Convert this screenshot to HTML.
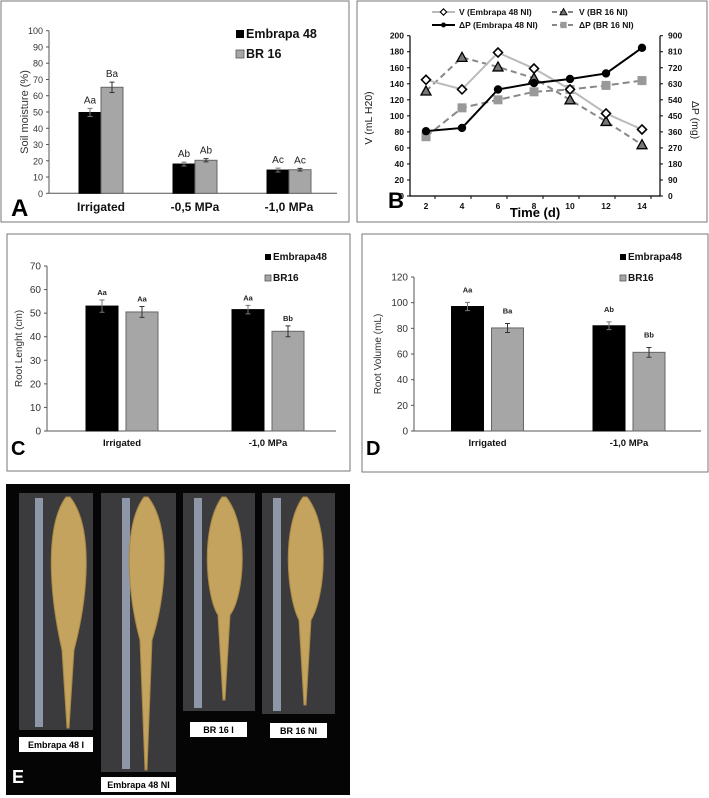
<!DOCTYPE html>
<html><head><meta charset="utf-8"><style>
html,body{margin:0;padding:0;background:#fff;}
svg{display:block;font-family:"Liberation Sans",Arial,sans-serif;}
</style></head><body>
<svg id="fig" width="709" height="798" viewBox="0 0 709 798" xmlns="http://www.w3.org/2000/svg">
<rect x="1" y="1" width="348" height="221" fill="none" stroke="#777" stroke-width="1"/>
<rect x="357" y="1" width="350" height="221" fill="none" stroke="#777" stroke-width="1"/>
<rect x="7" y="234" width="343" height="237" fill="none" stroke="#777" stroke-width="1"/>
<rect x="362" y="234" width="346" height="238" fill="none" stroke="#777" stroke-width="1"/>
<g id="A"></g>
<g id="B"></g>
<g id="C"></g>
<g id="D"></g>
<g id="E"></g>
</svg>
<script>
// ---------- data ----------
const catsA = ["Irrigated", "-0,5 MPa", "-1,0 MPa"];
const embA = [49.7, 18, 14.3];
const embErrA = [2.5, 1.2, 1.2];
const brA = [65.2, 20.3, 14.5];
const brErrA = [3.2, 1.0, 0.8];
const lettersEmbA = ["Aa", "Ab", "Ac"];
const lettersBrA = ["Ba", "Ab", "Ac"];
const ticksA = [0,10,20,30,40,50,60,70,80,90,100];

const daysB = [2,4,6,8,10,12,14];
const vEmbB = [145,133,179,159,133,103,83];
const vBrB = [131,173,161,147,120,93,64];
const dpEmbB = [364,382,598,634,657,688,832];
const dpBrB = [333,495,540,585,598,621,648];
const ticksBL = [0,20,40,60,80,100,120,140,160,180,200];
const ticksBR = [0,90,180,270,360,450,540,630,720,810,900];

const catsC = ["Irrigated", "-1,0 MPa"];
const embC = [53, 51.5];
const embErrC = [2.6, 1.8];
const brC = [50.5, 42.3];
const brErrC = [2.3, 2.3];
const lettersEmbC = ["Aa", "Aa"];
const lettersBrC = ["Aa", "Bb"];
const ticksC = [0,10,20,30,40,50,60,70];

const catsD = ["Irrigated", "-1,0 MPa"];
const embD = [97, 82];
const embErrD = [3.2, 3];
const brD = [80.3, 61.3];
const brErrD = [3.5, 3.8];
const lettersEmbD = ["Aa", "Ab"];
const lettersBrD = ["Ba", "Bb"];
const ticksD = [0,20,40,60,80,100,120];

// ---------- helpers ----------
const NS = "http://www.w3.org/2000/svg";
function mk(parent, tag, attrs, text){
  const e = document.createElementNS(NS, tag);
  for (const k in attrs) e.setAttribute(k, attrs[k]);
  if (text !== undefined) e.textContent = text;
  parent.appendChild(e);
  return e;
}

function barChart(g, cfg){
  const y = v => cfg.y0 - (v - 0) / cfg.vmax * (cfg.y0 - cfg.yTop);
  let ax = mk(g,"line",{x1:cfg.xL,y1:cfg.yTop,x2:cfg.xL,y2:cfg.y0,stroke:"#555","stroke-width":1});
  
  
  let bx = mk(g,"line",{x1:cfg.xL,y1:cfg.y0,x2:cfg.xR,y2:cfg.y0,stroke:"#555","stroke-width":1});
  
  
  cfg.ticks.forEach(t => {
    const ty = y(t);
    const tl = mk(g,"line",{x1:cfg.xL-3,y1:ty,x2:cfg.xL,y2:ty,stroke:"#555","stroke-width":1});
    
    
    const tt = mk(g,"text",{x:cfg.xL-6,y:ty+3.5,"text-anchor":"end","font-size":cfg.tickFs,fill:"#333"}, String(t));
    
    
  });
  const yt = mk(g,"text",{x:0,y:0,"text-anchor":"middle","font-size":cfg.titleFs,fill:"#333",transform:`translate(${cfg.titleX},${(cfg.yTop+cfg.y0)/2}) rotate(-90)`}, cfg.yTitle);
  
  
  const series = [
    {vals:cfg.emb, err:cfg.embErr, lab:cfg.lEmb, fill:"#000", off:-cfg.bw},
    {vals:cfg.br, err:cfg.brErr, lab:cfg.lBr, fill:"#a6a6a6", off:cfg.gap}
  ];
  cfg.cats.forEach((c,i) => {
    const cx = cfg.cx0 + i*cfg.step;
    series.forEach((s,si) => {
      const bxl = cx + s.off - cfg.gap/2;
      const top = y(s.vals[i]);
      const r = mk(g,"rect",{x:bxl,y:top,width:cfg.bw,height:cfg.y0-top,fill:s.fill,stroke:si?"#666":"#000","stroke-width":1});
      
      
      const mx = bxl + cfg.bw/2;
      const e1 = y(s.vals[i]+s.err[i]), e2 = y(s.vals[i]-s.err[i]);
      const eb = mk(g,"path",{d:`M${mx},${e1}V${e2}M${mx-2.5},${e1}H${mx+2.5}M${mx-2.5},${e2}H${mx+2.5}`,stroke:si?"#333":"#777",fill:"none","stroke-width":1});
      
      
      const lt = mk(g,"text",{x:mx,y:e1-cfg.letterGap,"text-anchor":"middle","font-size":cfg.letterFs,"font-weight":cfg.letterBold?"bold":"normal",fill:"#222"}, s.lab[i]);
      
      
    });
    const ct = mk(g,"text",{x:cx,y:cfg.catY,"text-anchor":"middle","font-size":cfg.catFs,"font-weight":"bold",fill:"#111"}, c);
    
    
  });
  const lg = mk(g,"g",{});
  
  
  const l1 = mk(lg,"rect",{x:cfg.legX,y:cfg.legY-cfg.legSq+1,width:cfg.legSq,height:cfg.legSq,fill:"#000"});
  
  
  const t1 = mk(lg,"text",{x:cfg.legX+cfg.legSq+2,y:cfg.legY+1,"font-size":cfg.legFs,"font-weight":"bold",fill:"#111"}, cfg.legNames[0]);
  
  
  const l2 = mk(lg,"rect",{x:cfg.legX,y:cfg.legY+cfg.legDy-cfg.legSq+1,width:cfg.legSq,height:cfg.legSq,fill:"#a6a6a6",stroke:"#555","stroke-width":0.8});
  
  
  const t2 = mk(lg,"text",{x:cfg.legX+cfg.legSq+2,y:cfg.legY+cfg.legDy+1,"font-size":cfg.legFs,"font-weight":"bold",fill:"#111"}, cfg.legNames[1]);
  
  
  const pl = mk(g,"text",{x:cfg.pX,y:cfg.pY,"font-size":cfg.pFs,"font-weight":"bold",fill:"#000"}, cfg.panel);
  
  
}

barChart(document.getElementById("A"), {
  cats:catsA, emb:embA, embErr:embErrA, br:brA, brErr:brErrA, lEmb:lettersEmbA, lBr:lettersBrA, ticks:ticksA,
  vmax:100, y0:193.3, yTop:30.7, xL:49, xR:337, cx0:101, step:94, bw:22, gap:0,
  tickFs:9, titleFs:11, titleX:28, yTitle:"Soil moisture (%)", letterFs:10, letterGap:5, letterBold:false,
  catY:211, catFs:12, legX:236, legY:37, legDy:20, legSq:8, legFs:12.5, legNames:["Embrapa 48","BR 16"],
  panel:"A", pX:11, pY:216, pFs:24
});
barChart(document.getElementById("C"), {
  cats:catsC, emb:embC, embErr:embErrC, br:brC, brErr:brErrC, lEmb:lettersEmbC, lBr:lettersBrC, ticks:ticksC,
  vmax:70, y0:431, yTop:266, xL:47, xR:336, cx0:122, step:146, bw:32, gap:8,
  tickFs:10, titleFs:10, titleX:22, yTitle:"Root Lenght (cm)", letterFs:7.5, letterGap:5, letterBold:true,
  catY:446, catFs:9.5, legX:265, legY:259, legDy:21, legSq:6, legFs:10, legNames:["Embrapa48","BR16"],
  panel:"C", pX:11, pY:455, pFs:20
});
barChart(document.getElementById("D"), {
  cats:catsD, emb:embD, embErr:embErrD, br:brD, brErr:brErrD, lEmb:lettersEmbD, lBr:lettersBrD, ticks:ticksD,
  vmax:120, y0:431, yTop:277, xL:414, xR:701, cx0:487.5, step:141.5, bw:32, gap:8,
  tickFs:10, titleFs:10, titleX:381, yTitle:"Root Volume (mL)", letterFs:7.5, letterGap:10, letterBold:true,
  catY:446, catFs:9.5, legX:620, legY:259, legDy:21, legSq:6, legFs:10, legNames:["Embrapa48","BR16"],
  panel:"D", pX:366, pY:455, pFs:20
});

(function(){
  const g = document.getElementById("B");
  const xL = 410, xR = 660, y0 = 196, yTop = 35.7;
  const x = t => 426 + (t - 2) * 18;
  const yl = v => y0 - v / 200 * (y0 - yTop);
  const yr = p => y0 - p / 900 * (y0 - yTop);
  const a1 = mk(g,"path",{d:`M${xL},${yTop}V${y0}H${xR}V${yTop}`,stroke:"#000",fill:"none","stroke-width":1.2});
  
  
  ticksBL.forEach(t => {
    const tt = mk(g,"text",{x:xL-6,y:yl(t)+3,"text-anchor":"end","font-size":8.5,"font-weight":"bold",fill:"#111"}, String(t));
    
    
    const tl = mk(g,"line",{x1:xL-3,x2:xL,y1:yl(t),y2:yl(t),stroke:"#000"});
    
    
  });
  ticksBR.forEach(t => {
    const tt = mk(g,"text",{x:xR+8,y:yr(t)+3,"font-size":8.5,"font-weight":"bold",fill:"#111"}, String(t));
    
    
    const tl = mk(g,"line",{x1:xR,x2:xR+3,y1:yr(t),y2:yr(t),stroke:"#000"});
    
    
  });
  daysB.forEach(d => {
    const tt = mk(g,"text",{x:x(d),y:y0+13,"text-anchor":"middle","font-size":8.5,"font-weight":"bold",fill:"#111"}, String(d));
    
    
    const tl = mk(g,"line",{x1:x(d)+9,x2:x(d)+9,y1:y0,y2:y0+3,stroke:"#000"});
    
    
  });
  const xt = mk(g,"text",{x:535,y:217,"text-anchor":"middle","font-size":13,"font-weight":"bold",fill:"#000"}, "Time (d)");
  
  
  const ylt = mk(g,"text",{x:0,y:0,"text-anchor":"middle","font-size":10.5,fill:"#222",transform:`translate(372,118) rotate(-90)`}, "V  (mL H20)");
  
  
  const yrt = mk(g,"text",{x:0,y:0,"text-anchor":"middle","font-size":10.5,fill:"#222",transform:`translate(692,120) rotate(90)`}, "ΔP (mg)");
  
  

  function marker(t, cx, cy, r){
    let m;
    if (t === "diamond") m = mk(g,"path",{d:`M${cx},${cy-4.5}L${cx+4.5},${cy}L${cx},${cy+4.5}L${cx-4.5},${cy}Z`,fill:"#fff",stroke:"#000","stroke-width":1.6});
    else if (t === "tri") m = mk(g,"path",{d:`M${cx},${cy-5}L${cx+5},${cy+4}L${cx-5},${cy+4}Z`,fill:"#777",stroke:"#000","stroke-width":1.3});
    else if (t === "circle") m = mk(g,"circle",{cx:cx,cy:cy,r:r||4.2,fill:"#000"});
    else m = mk(g,"rect",{x:cx-4.5,y:cy-4.5,width:9,height:9,fill:"#999"});
    return m;
  }
  const series = [
    {v:vBrB, f:yl, color:"#888", dash:"6,4", m:"tri", name:"line-v-br16"},
    {v:dpBrB, f:yr, color:"#888", dash:"7,4", m:"sq", name:"line-dp-br16"},
    {v:vEmbB, f:yl, color:"#bbb", dash:"", m:"diamond", name:"line-v-embrapa48"},
    {v:dpEmbB, f:yr, color:"#000", dash:"", m:"circle", name:"line-dp-embrapa48"}
  ];
  series.forEach(s => {
    const pts = daysB.map((d,i) => `${x(d)},${s.f(s.v[i])}`).join(" ");
    const pl = mk(g,"polyline",{points:pts,fill:"none",stroke:s.color,"stroke-width":2,"stroke-dasharray":s.dash});
    
    
    daysB.forEach((d,i) => {
      const m = marker(s.m, x(d), s.f(s.v[i]));
      
      
    });
  });
  const leg = [
    {x:432, y:12, color:"#bbb", dash:"", m:"diamond", t:"V (Embrapa 48 NI)"},
    {x:552, y:12, color:"#888", dash:"5,3", m:"tri", t:"V (BR 16 NI)"},
    {x:432, y:25, color:"#000", dash:"", m:"circle", t:"ΔP (Embrapa 48 NI)"},
    {x:552, y:25, color:"#888", dash:"5,3", m:"sq", t:"ΔP (BR 16 NI)"}
  ];
  leg.forEach(l => {
    const ln = mk(g,"line",{x1:l.x,x2:l.x+23,y1:l.y,y2:l.y,stroke:l.color,"stroke-width":2,"stroke-dasharray":l.dash});
    
    
    const m = marker(l.m, l.x+11.5, l.y, 3.5);
    m.setAttribute('transform', `translate(${(l.x+11.5)*0.3},${l.y*0.3}) scale(0.7)`);
    
    
    const tx = mk(g,"text",{x:l.x+27,y:l.y+3,"font-size":8.5,"font-weight":"bold",fill:"#111"}, l.t);
    
    
  });
  const pb = mk(g,"text",{x:388,y:208,"font-size":22,"font-weight":"bold",fill:"#000"}, "B");
  
  
})();

(function(){
  const g = document.getElementById("E");
  const bg = mk(g,"rect",{x:6,y:484,width:344,height:311,fill:"#050505"});
  
  
  const photos = [
    {x:19,w:74,y:493,h:237,ruler:38,rootX:68,rootEnd:728,bulk:650,lab:"Embrapa 48 I",lx:19,ly:737,lw:74},
    {x:101,w:75,y:493,h:279,ruler:125,rootX:146,rootEnd:770,bulk:640,lab:"Embrapa 48 NI",lx:101,ly:777,lw:75},
    {x:183,w:72,y:493,h:218,ruler:197,rootX:224,rootEnd:700,bulk:615,lab:"BR 16 I",lx:190,ly:722,lw:57},
    {x:262,w:73,y:493,h:221,ruler:276,rootX:305,rootEnd:705,bulk:620,lab:"BR 16 NI",lx:270,ly:723,lw:57}
  ];
  photos.forEach(p => {
    const r = mk(g,"rect",{x:p.x,y:p.y,width:p.w,height:p.h,fill:"#3b3b3d"});
    
    
    const ru = mk(g,"rect",{x:p.ruler-3,y:p.y+5,width:8,height:p.h-8,fill:"#8e97a8"});
    
    
    const cx = p.rootX, t = p.y+4;
    const root = mk(g,"path",{d:`M${cx-2},${t} C${cx-24},${t+30} ${cx-18},${t+100} ${cx-6},${p.bulk} L${cx-1},${p.rootEnd} L${cx+1},${p.rootEnd} L${cx+6},${p.bulk} C${cx+20},${t+100} ${cx+26},${t+30} ${cx+2},${t} Z`,fill:"#c4a35f",stroke:"#a88744","stroke-width":1});
    
    
    const lb = mk(g,"rect",{x:p.lx,y:p.ly,width:p.lw,height:15,fill:"#fff"});
    
    
    const lt = mk(g,"text",{x:p.lx+p.lw/2,y:p.ly+11,"text-anchor":"middle","font-size":9,"font-weight":"bold",fill:"#000"}, p.lab);
    
    
  });
  const pe = mk(g,"text",{x:12,y:783,"font-size":18,"font-weight":"bold",fill:"#fff"}, "E");
  
  
})();
</script>
</body></html>
